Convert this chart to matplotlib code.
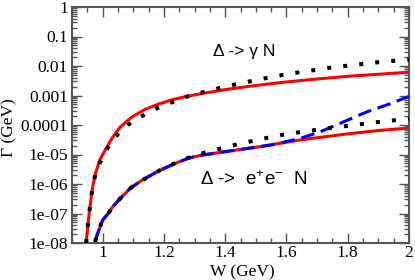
import numpy as np
import matplotlib
matplotlib.use("Agg")
import matplotlib.pyplot as plt
from matplotlib.ticker import FixedLocator, FixedFormatter, MultipleLocator, LogLocator, NullFormatter, FuncFormatter

plt.rcParams['mathtext.default'] = 'regular'

# ---- data ----
w_gamma_red = [0.946, 0.951, 0.956, 0.962, 0.969, 0.978, 0.990, 1.008, 1.030, 1.057, 1.095, 1.139,
               1.182, 1.226, 1.269, 1.324, 1.40, 1.50, 1.60, 1.70, 1.80, 1.90, 2.00]
g_gamma_red = [1e-8, 3.2e-8, 1e-7, 3.2e-7, 1e-6, 2.5e-6, 6.3e-6, 1.4e-5, 3.5e-5, 8.5e-5, 1.86e-4, 3.4e-4,
               5.1e-4, 7.1e-4, 9.1e-4, 1.17e-3, 1.58e-3, 2.19e-3, 2.88e-3, 3.63e-3, 4.47e-3, 5.25e-3, 6.17e-3]

w_gamma_dot = [0.946, 0.951, 0.956, 0.962, 0.969, 0.978, 0.990, 1.000, 1.021, 1.054, 1.092, 1.135, 1.180,
               1.228, 1.274, 1.326, 1.380, 1.430, 1.481, 1.533, 1.584, 1.638, 1.690, 1.742, 1.796,
               1.848, 1.902, 1.954, 2.00]
g_gamma_dot = [1e-8, 3.2e-8, 1e-7, 3.2e-7, 1e-6, 2.5e-6, 5.0e-6, 8.0e-6, 2.0e-5, 5.6e-5, 1.2e-4, 2.2e-4, 3.8e-4,
               6.0e-4, 9.1e-4, 1.29e-3, 1.78e-3, 2.34e-3, 3.02e-3, 3.89e-3, 4.9e-3, 6.03e-3, 7.24e-3, 8.7e-3, 1.02e-2,
               1.17e-2, 1.35e-2, 1.51e-2, 1.66e-2]

w_ee_red = [0.975, 0.983, 0.9915, 1.000, 1.018, 1.035, 1.057, 1.093, 1.134, 1.182, 1.229, 1.278, 1.318,
            1.40, 1.503, 1.60, 1.644, 1.70, 1.80, 1.90, 2.00]
g_ee_red = [1.1e-8, 2.0e-8, 3.5e-8, 6.0e-8, 1.0e-7, 1.8e-7, 3.2e-7, 7.6e-7, 1.45e-6, 2.75e-6, 4.6e-6,
            7.4e-6, 9.3e-6, 1.25e-5, 1.78e-5, 2.6e-5, 3.1e-5, 3.7e-5, 5.0e-5, 6.5e-5, 7.9e-5]

w_ee_blue = [0.975, 0.983, 0.9915, 1.000, 1.018, 1.035, 1.057, 1.093, 1.134, 1.182, 1.229, 1.278, 1.318,
             1.40, 1.503, 1.55, 1.60, 1.644, 1.709, 1.785, 1.861, 1.937, 2.00]
g_ee_blue = [1.1e-8, 2.0e-8, 3.5e-8, 6.0e-8, 1.0e-7, 1.8e-7, 3.2e-7, 7.6e-7, 1.45e-6, 2.75e-6, 4.6e-6,
             7.4e-6, 9.3e-6, 1.25e-5, 1.78e-5, 2.1e-5, 2.75e-5, 3.5e-5, 5.8e-5, 1.26e-4, 2.75e-4, 5.2e-4, 9.3e-4]

w_ee_dot = [0.975, 0.983, 0.9915, 1.000, 1.018, 1.035, 1.057, 1.093, 1.136, 1.182, 1.229, 1.278, 1.328, 1.380,
            1.430, 1.481, 1.533, 1.584, 1.638, 1.687, 1.742, 1.794, 1.847, 1.900, 1.953, 2.00]
g_ee_dot = [1.1e-8, 2.0e-8, 3.5e-8, 6.0e-8, 1.0e-7, 1.8e-7, 3.2e-7, 7.6e-7, 1.45e-6, 2.75e-6, 4.7e-6, 7.6e-6,
            1.12e-5, 1.55e-5, 2.09e-5, 2.75e-5, 3.6e-5, 4.6e-5, 5.6e-5, 6.6e-5, 7.9e-5, 9.2e-5, 1.08e-4, 1.26e-4,
            1.45e-4, 1.62e-4]

ytick_vals = [1e-8, 1e-7, 1e-6, 1e-5, 1e-4, 1e-3, 1e-2, 1e-1, 1]
ytick_labels = ["1e-08", "1e-07", "1e-06", "1e-05", "0.0001", "0.001", "0.01", "0.1", "1"]

label_gamma = "Δ -> γ N"
label_ee = "Δ ->  e$^{+}$e$^{-}$  N"

# ---- figure ----
fig = plt.figure(figsize=(4.15, 2.8), dpi=100)
ax = fig.add_axes([72/415, 37/280, 337/415, 236/280])

ax.set_yscale('log')
ax.set_xlim(0.9, 2.0)
ax.set_ylim(1e-8, 1)

ax.plot(w_gamma_red, g_gamma_red, color='#ff0000', lw=2.2, solid_capstyle='butt', zorder=2)
ax.plot(w_ee_red, g_ee_red, color='#ff0000', lw=2.2, solid_capstyle='butt', zorder=2)
ax.plot(w_ee_blue, g_ee_blue, color='#0000ff', lw=2.2, linestyle=(0, (4.5, 2.2)), dash_capstyle='butt', zorder=3)
ax.plot(w_gamma_dot, g_gamma_dot, color='black', lw=2.9, linestyle=(0, (1, 3)), dash_capstyle='butt', zorder=4)
ax.plot(w_ee_dot, g_ee_dot, color='black', lw=2.9, linestyle=(0, (1, 3)), dash_capstyle='butt', zorder=4)

serif = ['Liberation Serif', 'DejaVu Serif']
sans = ['Liberation Sans', 'DejaVu Sans']

ax.yaxis.set_major_locator(FixedLocator(ytick_vals))
ax.yaxis.set_major_formatter(FixedFormatter(ytick_labels))
ax.yaxis.set_minor_locator(LogLocator(base=10, subs=np.arange(2, 10), numticks=20))
ax.yaxis.set_minor_formatter(NullFormatter())
ax.xaxis.set_major_locator(MultipleLocator(0.2))
ax.xaxis.set_minor_locator(MultipleLocator(0.05))
ax.xaxis.set_major_formatter(FuncFormatter(lambda v, p: "%g" % round(v, 3)))

frame_col = '#555555'
for s in ax.spines.values():
    s.set_linewidth(1.5)
    s.set_color(frame_col)
ax.tick_params(which='both', direction='in', top=True, right=True, color=frame_col, width=1.0)
ax.tick_params(which='major', length=7)
ax.tick_params(which='minor', length=3.5)
ax.tick_params(axis='both', labelsize=12.5)
ax.tick_params(axis='x', pad=1.5)
ax.tick_params(axis='y', pad=3)
for lab in ax.get_xticklabels() + ax.get_yticklabels():
    lab.set_family(serif)

ax.set_xlabel("W (GeV)", family=serif, fontsize=12.5, va='center')
ax.xaxis.set_label_coords((242 - 72) / 337, -(272 - 243) / 236)
ax.set_ylabel("Γ (GeV)", family=serif, fontsize=12.5, va='center')
ax.yaxis.set_label_coords((9 - 72) / 337, (243 - 128) / 236)

ax.text(1.361, 0.0224, label_gamma, family=sans, fontsize=12.5, ha='left', va='baseline')
ax.text(1.318, 9.1e-7, label_ee, family=sans, fontsize=13.5, ha='left', va='baseline')

fig.savefig("out.png", dpi=100)
